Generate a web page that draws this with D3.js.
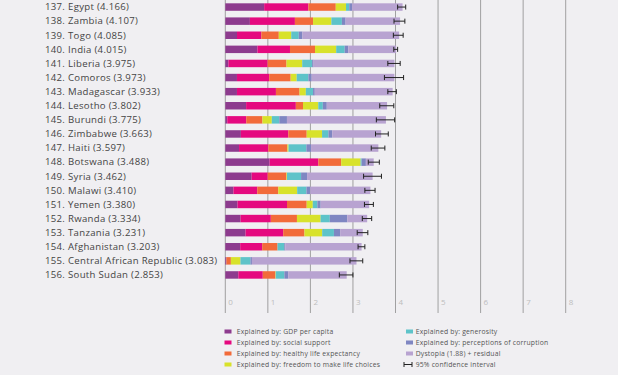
<!DOCTYPE html>
<meta charset="utf-8">
<style>
body { margin: 0; background: #f0eff2; }
svg { display: block; font-family: "Open Sans", Lato, sans-serif; }
.label { font-size: 9.6px; fill: #444; letter-spacing: 0.3px; }
.tick-label { font-size: 8px; fill: #bdbdbd; }
.legend { font-size: 6.8px; fill: #555; letter-spacing: 0.2px; }
.grid { stroke: #8c8c8c; stroke-width: 0.8px; }
.ci { stroke: #222; stroke-width: 1px; fill: none; }
</style>
<body>
<script src="https://cdnjs.cloudflare.com/ajax/libs/d3/7.8.5/d3.min.js"></script>
<script>

var width = 618, height = 375;

// data, WHR style bottom 20
var ranks = [137,138,139,140,141,142,143,144,145,146,147,148,149,150,151,152,153,154,155,156];
var countries = ["Egypt","Zambia","Togo","India","Liberia","Comoros","Madagascar","Lesotho","Burundi","Zimbabwe",
  "Haiti","Botswana","Syria","Malawi","Yemen","Rwanda","Tanzania","Afghanistan","Central African Republic","South Sudan"];
var scores = [4.166,4.107,4.085,4.015,3.975,3.973,3.933,3.802,3.775,3.663,3.597,3.488,3.462,3.410,3.380,3.334,3.231,3.203,3.083,2.853];
var gdp        = [0.913,0.578,0.275,0.755,0.073,0.274,0.274,0.489,0.046,0.366,0.323,1.041,0.619,0.191,0.287,0.359,0.476,0.350,0.026,0.306];
var social     = [1.039,1.058,0.572,0.765,0.922,0.757,0.916,1.169,0.447,1.114,0.688,1.145,0.378,0.560,1.163,0.711,0.885,0.517,0.000,0.575];
var health     = [0.644,0.426,0.410,0.588,0.443,0.505,0.555,0.168,0.380,0.433,0.449,0.538,0.440,0.495,0.463,0.614,0.499,0.361,0.105,0.295];
var freedom    = [0.241,0.431,0.293,0.498,0.370,0.142,0.148,0.359,0.220,0.361,0.026,0.455,0.013,0.443,0.143,0.555,0.417,0.000,0.225,0.010];
var generosity = [0.076,0.247,0.177,0.200,0.233,0.275,0.169,0.107,0.176,0.151,0.419,0.025,0.331,0.218,0.108,0.217,0.276,0.158,0.235,0.202];
var corruption = [0.067,0.087,0.085,0.085,0.033,0.078,0.041,0.093,0.180,0.089,0.110,0.100,0.141,0.089,0.077,0.411,0.147,0.025,0.035,0.091];
var ciLow  = [4.05,3.965,3.95,3.96,3.82,3.74,3.82,3.63,3.55,3.53,3.43,3.36,3.25,3.28,3.27,3.22,3.10,3.12,2.93,2.68];
var ciHigh = [4.24,4.22,4.18,4.05,4.11,4.19,4.02,3.96,3.98,3.83,3.75,3.62,3.67,3.52,3.48,3.44,3.35,3.28,3.23,3.00];
var xTicks = [0,1,2,3,4,5,6,7,8];

var seriesNames = ["Explained by: GDP per capita","Explained by: social support","Explained by: healthy life expectancy",
  "Explained by: freedom to make life choices","Explained by: generosity","Explained by: perceptions of corruption",
  "Dystopia (1.88) + residual"];
var colors = ["#8d3b8e","#e5097f","#f26b3a","#d8e22b","#5ec3c9","#7f86c2","#b8a3d1"];

var rows = countries.map(function(c, i) {
  var parts = [gdp[i], social[i], health[i], freedom[i], generosity[i], corruption[i]];
  var sum = d3.sum(parts);
  parts.push(scores[i] - sum);
  return { country: c, rank: ranks[i], score: scores[i], parts: parts, lo: ciLow[i], hi: ciHigh[i] };
});

var x = d3.scaleLinear().domain([0, 8]).range([225.3, 565.7]);
var y = d3.scaleBand().domain(countries).range([0, 282]).paddingInner(0.47).paddingOuter(0.235);

var svg = d3.select("body").append("svg")
    .attr("width", width)
    .attr("height", height);

// gridlines
svg.selectAll(".grid")
  .data(xTicks)
  .enter().append("line")
  .attr("class", "grid")
  .attr("x1", function(d){ return x(d); })
  .attr("x2", function(d){ return x(d); })
  .attr("y1", 0)
  .attr("y2", 313);

svg.selectAll(".tick-label")
  .data(xTicks)
  .enter().append("text")
  .attr("class", "tick-label")
  .attr("x", function(d){ return x(d) + 3; })
  .attr("y", 305)
  .text(function(d){ return d; });

// stacked bars
var g = svg.selectAll(".row")
  .data(rows)
  .enter().append("g")
  .attr("class", "row");

g.each(function(d) {
  var acc = 0;
  var segs = d.parts.map(function(v, k) {
    var s = { x0: acc, x1: acc + v, k: k };
    acc += v;
    return s;
  });
  d3.select(this).selectAll("rect")
    .data(segs)
    .enter().append("rect")
    .attr("x", function(s){ return x(s.x0); })
    .attr("width", function(s){ return Math.max(0, x(s.x1) - x(s.x0)); })
    .attr("y", y(d.country))
    .attr("height", y.bandwidth())
    .style("fill", function(s){ return colors[s.k]; });
});

// confidence intervals
g.each(function(d) {
  var cy = y(d.country) + y.bandwidth() / 2;
  var sel = d3.select(this);
  sel.append("line").attr("class", "ci")
    .attr("x1", x(d.lo)).attr("x2", x(d.hi)).attr("y1", cy).attr("y2", cy);
  [d.lo, d.hi].forEach(function(v) {
    sel.append("line").attr("class", "ci")
      .attr("x1", x(v)).attr("x2", x(v)).attr("y1", cy - 2.5).attr("y2", cy + 2.5);
  });
});

// labels
g.append("text")
  .attr("class", "label")
  .attr("x", 45)
  .attr("y", function(d){ return y(d.country) + y.bandwidth() / 2 + 3.3; })
  .text(function(d){ return d.rank + "."; });

g.append("text")
  .attr("class", "label")
  .attr("x", 68)
  .attr("y", function(d){ return y(d.country) + y.bandwidth() / 2 + 3.3; })
  .text(function(d){ return d.country + " (" + d.score.toFixed(3) + ")"; });

// legend
var legendItems = seriesNames.map(function(n, i){ return { name: n, color: colors[i], ci: false }; });
legendItems.push({ name: "95% confidence interval", color: null, ci: true });

var legend = svg.selectAll("g.legend-item")
  .data(legendItems)
  .enter().append("g")
  .attr("class", "legend-item")
  .attr("transform", function(d, i) {
    var col = i < 4 ? 0 : 1;
    var r = i % 4;
    return "translate(" + (col ? 406 : 224.5) + "," + (331.5 + r * 11) + ")";
  });

legend.filter(function(d){ return !d.ci; })
  .append("rect")
  .attr("x", 0)
  .attr("y", -2)
  .attr("width", 7)
  .attr("height", 4)
  .style("fill", function(d){ return d.color; });

var ciIcon = legend.filter(function(d){ return d.ci; });
ciIcon.append("line").attr("class", "ci").attr("x1", -2).attr("x2", 6).attr("y1", 0).attr("y2", 0);
ciIcon.append("line").attr("class", "ci").attr("x1", -2).attr("x2", -2).attr("y1", -2.5).attr("y2", 2.5);
ciIcon.append("line").attr("class", "ci").attr("x1", 6).attr("x2", 6).attr("y1", -2.5).attr("y2", 2.5);

legend.append("text")
  .attr("class", "legend")
  .attr("x", function(d, i){ return i < 4 ? 12.2 : 9.7; })
  .attr("y", 2.4)
  .text(function(d){ return d.name; });

</script>
</body>
